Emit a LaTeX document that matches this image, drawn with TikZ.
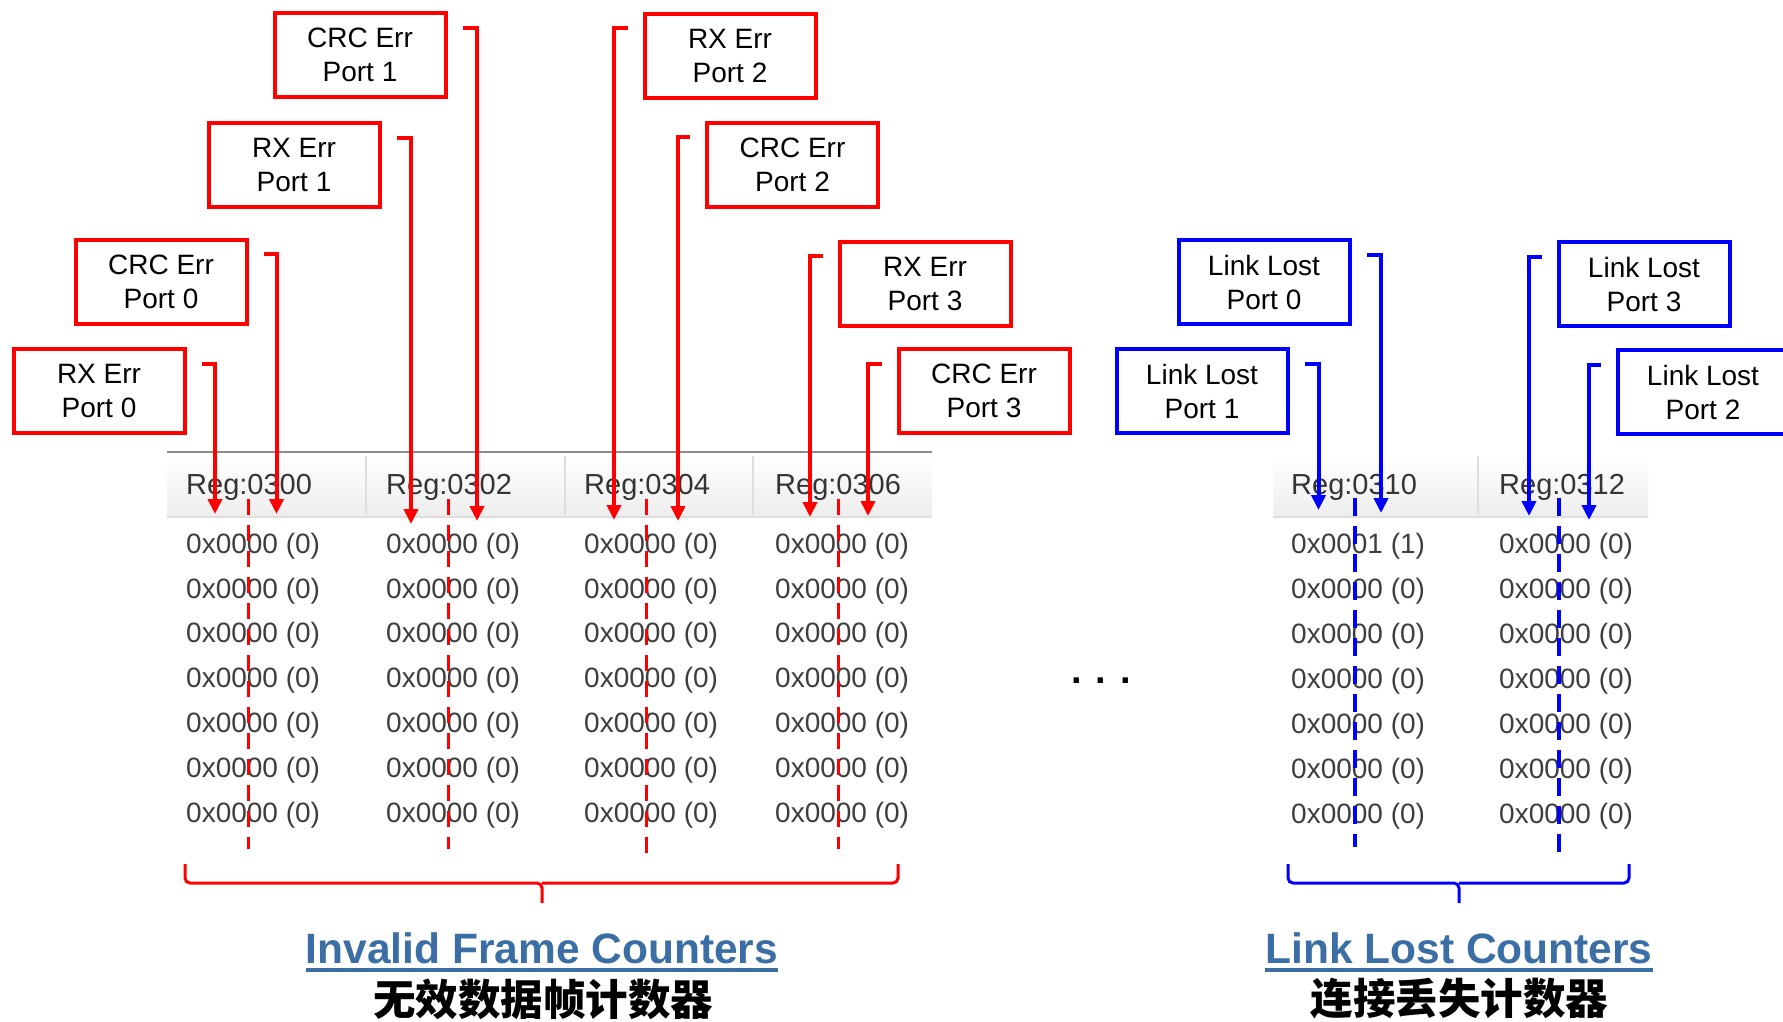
\documentclass[tikz,border=0pt]{standalone}
\usepackage{fontspec}
\setmainfont{Liberation Sans}
\newfontfamily\cjk{Noto Sans CJK SC}
\usetikzlibrary{arrows.meta,calc}
\definecolor{errred}{RGB}{255,0,0}
\definecolor{lostblue}{RGB}{0,0,255}
\definecolor{titleblue}{RGB}{58,110,165}
\definecolor{celltext}{RGB}{62,62,62}
\definecolor{hdrline}{RGB}{140,140,140}
\definecolor{hdrsep}{RGB}{222,222,222}

\begin{document}
\begin{tikzpicture}[x=1pt,y=-1pt,
  tag/.style={draw,line width=4pt,minimum width=171pt,minimum height=84pt,
    inner sep=0pt,align=center,font=\fontsize{28}{34}\selectfont},
  redtag/.style={tag,draw=errred},
  bluetag/.style={tag,draw=lostblue},
  conn/.style={line width=4pt,-{Triangle[length=15pt,width=14pt]}},
  redconn/.style={conn,errred},
  blueconn/.style={conn,lostblue},
  cell/.style={anchor=west,inner sep=0pt,text=celltext,font=\fontsize{28}{34}\selectfont},
  hdr/.style={anchor=west,inner sep=0pt,text=celltext!85!black,font=\fontsize{29}{34}\selectfont},
  band/.style={top color=white,bottom color=black!7,draw=none},
  reddash/.style={errred,line width=3pt,dash pattern=on 16pt off 10pt},
  bluedash/.style={lostblue,line width=4pt,dash pattern=on 18pt off 10pt},
  brace/.style={line width=3pt,rounded corners=5pt},
  title/.style={inner sep=0pt,anchor=base,text=titleblue,font=\bfseries\fontsize{42.5}{50}\selectfont},
  cjktitle/.style={inner sep=0pt,font=\cjk\bfseries\fontsize{42.5}{50}\selectfont}
]
\useasboundingbox (0,0) rectangle (1783,1021);
\clip (0,0) rectangle (1783,1021);

% ---- register table headers ----
\fill[band] (167,453) rectangle (932,517);
\draw[hdrline,line width=2.5pt] (167,452) -- (932,452);
\draw[hdrsep,line width=1.5pt] (167,517) -- (932,517);
\foreach \x in {366,565,753} \draw[hdrsep,line width=1.2pt] (\x,456) -- (\x,515);

\fill[band] (1273,455) rectangle (1648,517);
\draw[hdrsep,line width=1.5pt] (1273,517) -- (1648,517);
\draw[hdrsep,line width=1.2pt] (1478,456) -- (1478,515);

% ---- register values ----
\foreach \c/\x/\h in {1/186/0300,2/386/0302,3/584/0304,4/775/0306}{
  \node[hdr] (h\c) at (\x,487) {Reg:\h};
  \foreach \r in {0,...,6}
    \node[cell] (v\c-\r) at (\x,{546+44.8*\r}) {0x0000 (0)};
}
\node[hdr] (h5) at (1291,487) {Reg:0310};
\node[cell] (v5-0) at (1291,546) {0x0001 (1)};
\foreach \r in {1,...,6}
  \node[cell] (v5-\r) at (1291,{546+45*\r}) {0x0000 (0)};
\node[hdr] (h6) at (1499,487) {Reg:0312};
\foreach \r in {0,...,6}
  \node[cell] (v6-\r) at (1499,{546+45*\r}) {0x0000 (0)};

% ---- byte split markers ----
\draw[reddash] (248,499) -- (248,849);
\draw[reddash] (448,499) -- (448,849);
\draw[reddash] (646,499) -- (646,858);
\draw[reddash] (838,499) -- (838,849);
\draw[bluedash] (1354.5,498) -- (1354.5,847);
\draw[bluedash] (1559,498) -- (1559,855);

% ---- counter labels ----
\node[redtag] (rx0)  at (99,391)      {RX Err\\Port 0};
\node[redtag] (crc0) at (161,281.5)   {CRC Err\\Port 0};
\node[redtag] (rx1)  at (294,165)     {RX Err\\Port 1};
\node[redtag] (crc1) at (360,55)      {CRC Err\\Port 1};
\node[redtag] (rx2)  at (730,55.5)    {RX Err\\Port 2};
\node[redtag] (crc2) at (792.5,164.5) {CRC Err\\Port 2};
\node[redtag] (rx3)  at (925,283.5)   {RX Err\\Port 3};
\node[redtag] (crc3) at (984,391)     {CRC Err\\Port 3};
\node[bluetag] (ll0) at (1264,282)    {Link Lost\\Port 0};
\node[bluetag] (ll1) at (1202,391)    {Link Lost\\Port 1};
\node[bluetag] (ll3) at (1644,284)    {Link Lost\\Port 3};
\node[bluetag] (ll2) at (1703,392)    {Link Lost\\Port 2};

% ---- arrow targets on the register bytes ----
\coordinate (t-rx0)  at (215,514);
\coordinate (t-crc0) at (276.5,514);
\coordinate (t-rx1)  at (411,524);
\coordinate (t-crc1) at (477,521);
\coordinate (t-rx2)  at (614,520);
\coordinate (t-crc2) at (678,521);
\coordinate (t-rx3)  at (810,517);
\coordinate (t-crc3) at (868,516);
\coordinate (t-ll0)  at (1381,513);
\coordinate (t-ll1)  at (1318.5,510);
\coordinate (t-ll3)  at (1529,516);
\coordinate (t-ll2)  at (1589,520);

% ---- connectors ----
\foreach \n in {rx0,crc0,rx1,crc1}
  \draw[redconn] ([shift={(15,16.5)}]\n.north east) -| (t-\n);
\foreach \n in {rx2,crc2,rx3,crc3}
  \draw[redconn] ([shift={(-15,16.5)}]\n.north west) -| (t-\n);
\foreach \n in {ll0,ll1}
  \draw[blueconn] ([shift={(15,16.5)}]\n.north east) -| (t-\n);
\foreach \n in {ll3,ll2}
  \draw[blueconn] ([shift={(-15,16.5)}]\n.north west) -| (t-\n);

% ---- group braces ----
\draw[brace,errred] (185,864) |- (542,883) -- (542,903);
\draw[brace,errred] (898,864) |- (542,883);
\draw[brace,lostblue] (1288,864) |- (1459,883) -- (1459,903);
\draw[brace,lostblue] (1629,864) |- (1459,883);

\node[inner sep=0pt,anchor=base,font=\bfseries\fontsize{38}{40}\selectfont] (dots) at (1101,683) {. . .};

% ---- titles ----
\node[title] (ifc) at (542,963) {Invalid Frame Counters};
\draw[titleblue,line width=3.5pt] ([shift={(0,7)}]ifc.base west) -- ([shift={(0,7)}]ifc.base east);
\node[cjktitle] (ifczh) at (543,999) {无效数据帧计数器};
\node[title] (llc) at (1459,963) {Link Lost Counters};
\draw[titleblue,line width=3.5pt] ([shift={(0,7)}]llc.base west) -- ([shift={(0,7)}]llc.base east);
\node[cjktitle] (llczh) at (1459.5,999) {连接丢失计数器};
\end{tikzpicture}
\end{document}
